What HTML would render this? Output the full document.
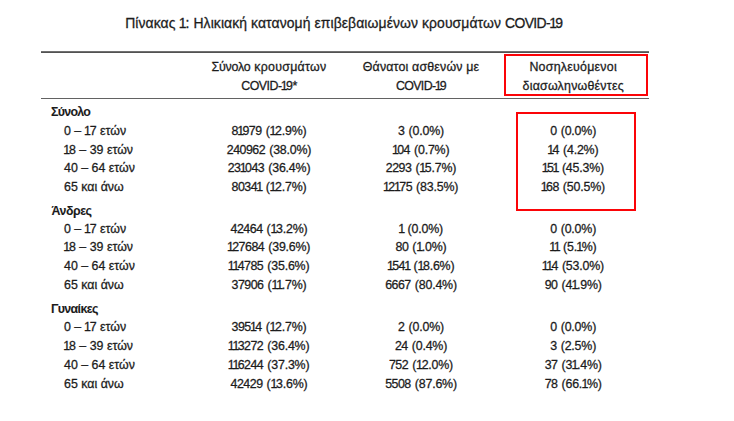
<!DOCTYPE html>
<html lang="el"><head><meta charset="utf-8"><title>Πίνακας 1</title><style>
html,body{margin:0;padding:0;background:#fff;}
body{width:734px;height:421px;position:relative;overflow:hidden;font-family:"Liberation Sans",sans-serif;color:#1c1c1c;-webkit-text-stroke:0.28px #1c1c1c;}
.t{position:absolute;white-space:nowrap;line-height:16px;font-size:12.4px;}
.c{text-align:center;}
.b{font-weight:bold;-webkit-text-stroke:0.08px #1c1c1c;}
.d{letter-spacing:-0.49px;word-spacing:1.1px;}
.p{letter-spacing:-0.19px;}
.o{margin:0 -1.15px 0 -0.75px;}
.q{margin:0 -1.15px 0 -0.1px;}
.hl{position:absolute;background:linear-gradient(#707070 0,#707070 50%,#525252 50%,#525252 100%);height:2px;}
.rb{position:absolute;border:2px solid #fb0408;box-sizing:border-box;}
</style></head><body>
<div class="t " style="left:125.20px;top:14.67px;font-size:13.95px;letter-spacing:0.09px;">Πίνακας <span class="o">1</span>: Ηλικιακή κατανομή επιβεβαιωμένων κρουσμάτων <span style="letter-spacing:-0.62px">COVID-<span class="o">1</span>9</span></div>
<div class="hl" style="left:41px;top:51px;width:608px;"></div>
<div class="hl" style="left:41px;top:98px;width:608px;height:1px;background:#626262;"></div>
<div class="t c" style="left:169.00px;top:58.80px;width:200px;letter-spacing:0.28px;"><span style="letter-spacing:-0.2px">Σύνολο</span> κρουσμάτων</div>
<div class="t c" style="left:169.00px;top:77.90px;width:200px;letter-spacing:-0.52px;">COVID-<span class="o">1</span>9*</div>
<div class="t c" style="left:321.00px;top:58.80px;width:200px;letter-spacing:0.17px;">Θάνατοι ασθενών με</div>
<div class="t c" style="left:321.00px;top:77.90px;width:200px;letter-spacing:-0.66px;">COVID-<span class="o">1</span>9</div>
<div class="t c" style="left:473.20px;top:58.80px;width:200px;letter-spacing:0.25px;">Νοσηλευόμενοι</div>
<div class="t c" style="left:473.20px;top:77.90px;width:200px;letter-spacing:0.23px;">διασωληνωθέντες</div>
<div class="t b" style="left:50.90px;top:103.90px;letter-spacing:-0.68px;">Σύνολο</div>
<div class="t " style="left:64.00px;top:122.90px;">0 – <span class="o">1</span>7 ετών</div>
<div class="t c d" style="left:169.00px;top:122.90px;width:200px;">8<span class="o">1</span>979 <span class="p">(<span class="q">1</span>2.9%)</span></div>
<div class="t c d" style="left:321.00px;top:122.90px;width:200px;">3 <span class="p">(0.0%)</span></div>
<div class="t c d" style="left:473.20px;top:122.90px;width:200px;">0 <span class="p">(0.0%)</span></div>
<div class="t " style="left:64.00px;top:141.90px;"><span class="o">1</span>8 – 39 ετών</div>
<div class="t c d" style="left:169.00px;top:141.90px;width:200px;">240962 <span class="p">(38.0%)</span></div>
<div class="t c d" style="left:321.00px;top:141.90px;width:200px;"><span class="o">1</span>04 <span class="p">(0.7%)</span></div>
<div class="t c d" style="left:473.20px;top:141.90px;width:200px;"><span class="o">1</span>4 <span class="p">(4.2%)</span></div>
<div class="t " style="left:64.00px;top:159.90px;">40 – 64 ετών</div>
<div class="t c d" style="left:169.00px;top:159.90px;width:200px;">23<span class="o">1</span>043 <span class="p">(36.4%)</span></div>
<div class="t c d" style="left:321.00px;top:159.90px;width:200px;">2293 <span class="p">(<span class="q">1</span>5.7%)</span></div>
<div class="t c d" style="left:473.20px;top:159.90px;width:200px;"><span class="o">1</span>5<span class="o">1</span> <span class="p">(45.3%)</span></div>
<div class="t " style="left:64.00px;top:178.90px;">65 και άνω</div>
<div class="t c d" style="left:169.00px;top:178.90px;width:200px;">8034<span class="o">1</span> <span class="p">(<span class="q">1</span>2.7%)</span></div>
<div class="t c d" style="left:321.00px;top:178.90px;width:200px;"><span class="o">1</span>2<span class="o">1</span>75 <span class="p">(83.5%)</span></div>
<div class="t c d" style="left:473.20px;top:178.90px;width:200px;"><span class="o">1</span>68 <span class="p">(50.5%)</span></div>
<div class="t b" style="left:51.60px;top:202.90px;letter-spacing:-0.5px;">Άνδρες</div>
<div class="t " style="left:64.00px;top:220.90px;">0 – <span class="o">1</span>7 ετών</div>
<div class="t c d" style="left:169.00px;top:220.90px;width:200px;">42464 <span class="p">(<span class="q">1</span>3.2%)</span></div>
<div class="t c d" style="left:321.00px;top:220.90px;width:200px;"><span class="o">1</span> <span class="p">(0.0%)</span></div>
<div class="t c d" style="left:473.20px;top:220.90px;width:200px;">0 <span class="p">(0.0%)</span></div>
<div class="t " style="left:64.00px;top:238.90px;"><span class="o">1</span>8 – 39 ετών</div>
<div class="t c d" style="left:169.00px;top:238.90px;width:200px;"><span class="o">1</span>27684 <span class="p">(39.6%)</span></div>
<div class="t c d" style="left:321.00px;top:238.90px;width:200px;">80 <span class="p">(<span class="q">1</span>.0%)</span></div>
<div class="t c d" style="left:473.20px;top:238.90px;width:200px;"><span class="o">1</span><span class="o">1</span> <span class="p">(5.<span class="o">1</span>%)</span></div>
<div class="t " style="left:64.00px;top:257.90px;">40 – 64 ετών</div>
<div class="t c d" style="left:169.00px;top:257.90px;width:200px;"><span class="o">1</span><span class="o">1</span>4785 <span class="p">(35.6%)</span></div>
<div class="t c d" style="left:321.00px;top:257.90px;width:200px;"><span class="o">1</span>54<span class="o">1</span> <span class="p">(<span class="q">1</span>8.6%)</span></div>
<div class="t c d" style="left:473.20px;top:257.90px;width:200px;"><span class="o">1</span><span class="o">1</span>4 <span class="p">(53.0%)</span></div>
<div class="t " style="left:64.00px;top:276.90px;">65 και άνω</div>
<div class="t c d" style="left:169.00px;top:276.90px;width:200px;">37906 <span class="p">(<span class="q">1</span><span class="o">1</span>.7%)</span></div>
<div class="t c d" style="left:321.00px;top:276.90px;width:200px;">6667 <span class="p">(80.4%)</span></div>
<div class="t c d" style="left:473.20px;top:276.90px;width:200px;">90 <span class="p">(4<span class="o">1</span>.9%)</span></div>
<div class="t b" style="left:50.90px;top:301.20px;letter-spacing:-0.62px;">Γυναίκες</div>
<div class="t " style="left:64.00px;top:318.90px;">0 – <span class="o">1</span>7 ετών</div>
<div class="t c d" style="left:169.00px;top:318.90px;width:200px;">395<span class="o">1</span>4 <span class="p">(<span class="q">1</span>2.7%)</span></div>
<div class="t c d" style="left:321.00px;top:318.90px;width:200px;">2 <span class="p">(0.0%)</span></div>
<div class="t c d" style="left:473.20px;top:318.90px;width:200px;">0 <span class="p">(0.0%)</span></div>
<div class="t " style="left:64.00px;top:337.90px;"><span class="o">1</span>8 – 39 ετών</div>
<div class="t c d" style="left:169.00px;top:337.90px;width:200px;"><span class="o">1</span><span class="o">1</span>3272 <span class="p">(36.4%)</span></div>
<div class="t c d" style="left:321.00px;top:337.90px;width:200px;">24 <span class="p">(0.4%)</span></div>
<div class="t c d" style="left:473.20px;top:337.90px;width:200px;">3 <span class="p">(2.5%)</span></div>
<div class="t " style="left:64.00px;top:356.90px;">40 – 64 ετών</div>
<div class="t c d" style="left:169.00px;top:356.90px;width:200px;"><span class="o">1</span><span class="o">1</span>6244 <span class="p">(37.3%)</span></div>
<div class="t c d" style="left:321.00px;top:356.90px;width:200px;">752 <span class="p">(<span class="q">1</span>2.0%)</span></div>
<div class="t c d" style="left:473.20px;top:356.90px;width:200px;">37 <span class="p">(3<span class="o">1</span>.4%)</span></div>
<div class="t " style="left:64.00px;top:375.90px;">65 και άνω</div>
<div class="t c d" style="left:169.00px;top:375.90px;width:200px;">42429 <span class="p">(<span class="q">1</span>3.6%)</span></div>
<div class="t c d" style="left:321.00px;top:375.90px;width:200px;">5508 <span class="p">(87.6%)</span></div>
<div class="t c d" style="left:473.20px;top:375.90px;width:200px;">78 <span class="p">(66.<span class="o">1</span>%)</span></div>
<div class="rb" style="left:504px;top:54px;width:144px;height:42px;"></div>
<div class="rb" style="left:516px;top:112px;width:120px;height:99px;"></div>
</body></html>
